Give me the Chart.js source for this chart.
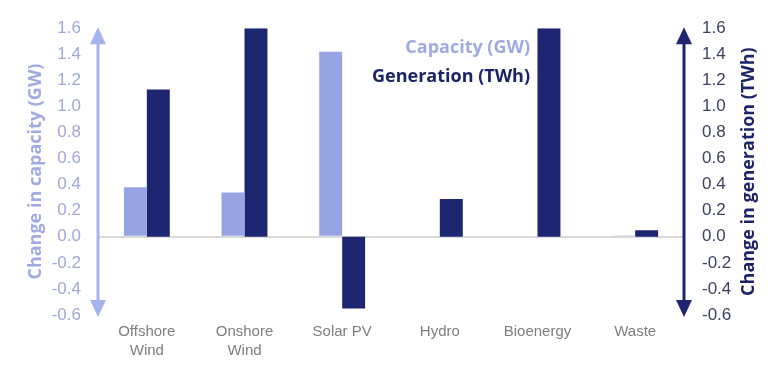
<!DOCTYPE html>
<html>
<head>
<meta charset="utf-8">
<script src="https://cdn.jsdelivr.net/npm/chart.js@4/dist/chart.umd.min.js"></script>
<style>
  html, body { margin: 0; padding: 0; background: #ffffff; }
  #wrap { width: 780px; height: 370px; position: relative; }
</style>
</head>
<body>
<div id="wrap"><canvas id="c" width="780" height="370"></canvas></div>
<script>
const categories = [["Offshore", "Wind"], ["Onshore", "Wind"], "Solar PV", "Hydro", "Bioenergy", "Waste"];
const capacityGW = [0.38, 0.34, 1.42, 0, 0, 0.01];
const generationTWh = [1.13, 1.6, -0.55, 0.29, 1.6, 0.05];
const seriesLabels = ["Capacity (GW)", "Generation (TWh)"];
const axisTitles = ["Change in capacity (GW)", "Change in generation (TWh)"];
const axisMin = -0.6, axisMax = 1.6, axisStep = 0.2;

const LIGHT = "#98a3e4";
const DARK = "#1e2672";
const LIGHT_TEXT = "#a0aae2";
const DARK_TEXT = "#1c2468";

const decor = {
  id: "decor",
  afterDraw(chart) {
    const ctx = chart.ctx;
    const ya = chart.scales.y;
    const yb = chart.scales.y2;
    const area = chart.chartArea;
    function arrow(x, scale, color) {
      const top = scale.getPixelForValue(axisMax) - 1;
      const bot = scale.getPixelForValue(axisMin) + 2;
      const hw = 8, hl = 17;
      ctx.save();
      ctx.strokeStyle = color;
      ctx.fillStyle = color;
      ctx.lineWidth = 3;
      ctx.beginPath();
      ctx.moveTo(x, top + hl - 2);
      ctx.lineTo(x, bot - hl + 2);
      ctx.stroke();
      ctx.beginPath();
      ctx.moveTo(x, top);
      ctx.lineTo(x - hw, top + hl);
      ctx.lineTo(x + hw, top + hl);
      ctx.closePath();
      ctx.fill();
      ctx.beginPath();
      ctx.moveTo(x, bot);
      ctx.lineTo(x - hw, bot - hl);
      ctx.lineTo(x + hw, bot - hl);
      ctx.closePath();
      ctx.fill();
      ctx.restore();
    }
    arrow(area.left, ya, "#a7b3ee");
    arrow(area.right, yb, DARK);

    // legend text
    ctx.save();
    ctx.font = "bold 18px 'Open Sans'";
    ctx.textAlign = "right";
    ctx.textBaseline = "middle";
    ctx.fillStyle = LIGHT_TEXT;
    ctx.fillText(chart.data.datasets[0].label, 530, 48);
    ctx.fillStyle = DARK_TEXT;
    ctx.fillText(chart.data.datasets[1].label, 530, 77);
    ctx.restore();

    // right axis title (reads bottom to top)
    ctx.save();
    ctx.font = "bold 18px 'Open Sans'";
    ctx.fillStyle = DARK_TEXT;
    ctx.textAlign = "center";
    ctx.textBaseline = "middle";
    ctx.translate(749, (area.top + area.bottom) / 2);
    ctx.rotate(-Math.PI / 2);
    ctx.fillText(axisTitles[1], 0, 0);
    ctx.restore();
  }
};

new Chart(document.getElementById("c"), {
  type: "bar",
  data: {
    labels: categories,
    datasets: [
      { label: seriesLabels[0], data: capacityGW, backgroundColor: LIGHT, yAxisID: "y",
        categoryPercentage: 0.47, barPercentage: 1.0 },
      { label: seriesLabels[1], data: generationTWh, backgroundColor: DARK, yAxisID: "y2",
        categoryPercentage: 0.47, barPercentage: 1.0 }
    ]
  },
  options: {
    responsive: false,
    animation: false,
    devicePixelRatio: 1,
    layout: { padding: { top: 26, left: 0, right: 0, bottom: 0 } },
    plugins: { legend: { display: false }, tooltip: { enabled: false } },
    scales: {
      x: {
        grid: { display: false, drawTicks: false },
        border: { display: false },
        ticks: { color: "#7f7f7f", font: { family: "'Liberation Sans', Arial", size: 15, lineHeight: 1.27 },
                 padding: 7, maxRotation: 0, autoSkip: false },
        afterFit(s) { s.height = 55; }
      },
      y: {
        position: "left",
        min: axisMin, max: axisMax,
        ticks: { stepSize: axisStep, color: "#a0a8d8", padding: 17,
                 font: { family: "'Liberation Sans', Arial", size: 17 },
                 callback: v => Number(v).toFixed(1) },
        grid: { drawTicks: false, lineWidth: 2,
                color: c => (Math.abs(c.tick.value) < 1e-9 ? "#d9d9d9" : "rgba(0,0,0,0)") },
        border: { display: false },
        title: { display: true, text: axisTitles[0], color: LIGHT_TEXT,
                 font: { family: "'Open Sans'", size: 18, weight: "bold" }, padding: { top: 25, bottom: 0 } },
        afterFit(s) { s.width = 98; }
      },
      y2: {
        position: "right",
        min: axisMin, max: axisMax,
        ticks: { stepSize: axisStep, color: "#3d4260", padding: 18,
                 font: { family: "'Liberation Sans', Arial", size: 17 },
                 callback: v => Number(v).toFixed(1) },
        grid: { display: false, drawTicks: false },
        border: { display: false },
        afterFit(s) { s.width = 96; }
      }
    }
  },
  plugins: [decor]
});
</script>
</body>
</html>
